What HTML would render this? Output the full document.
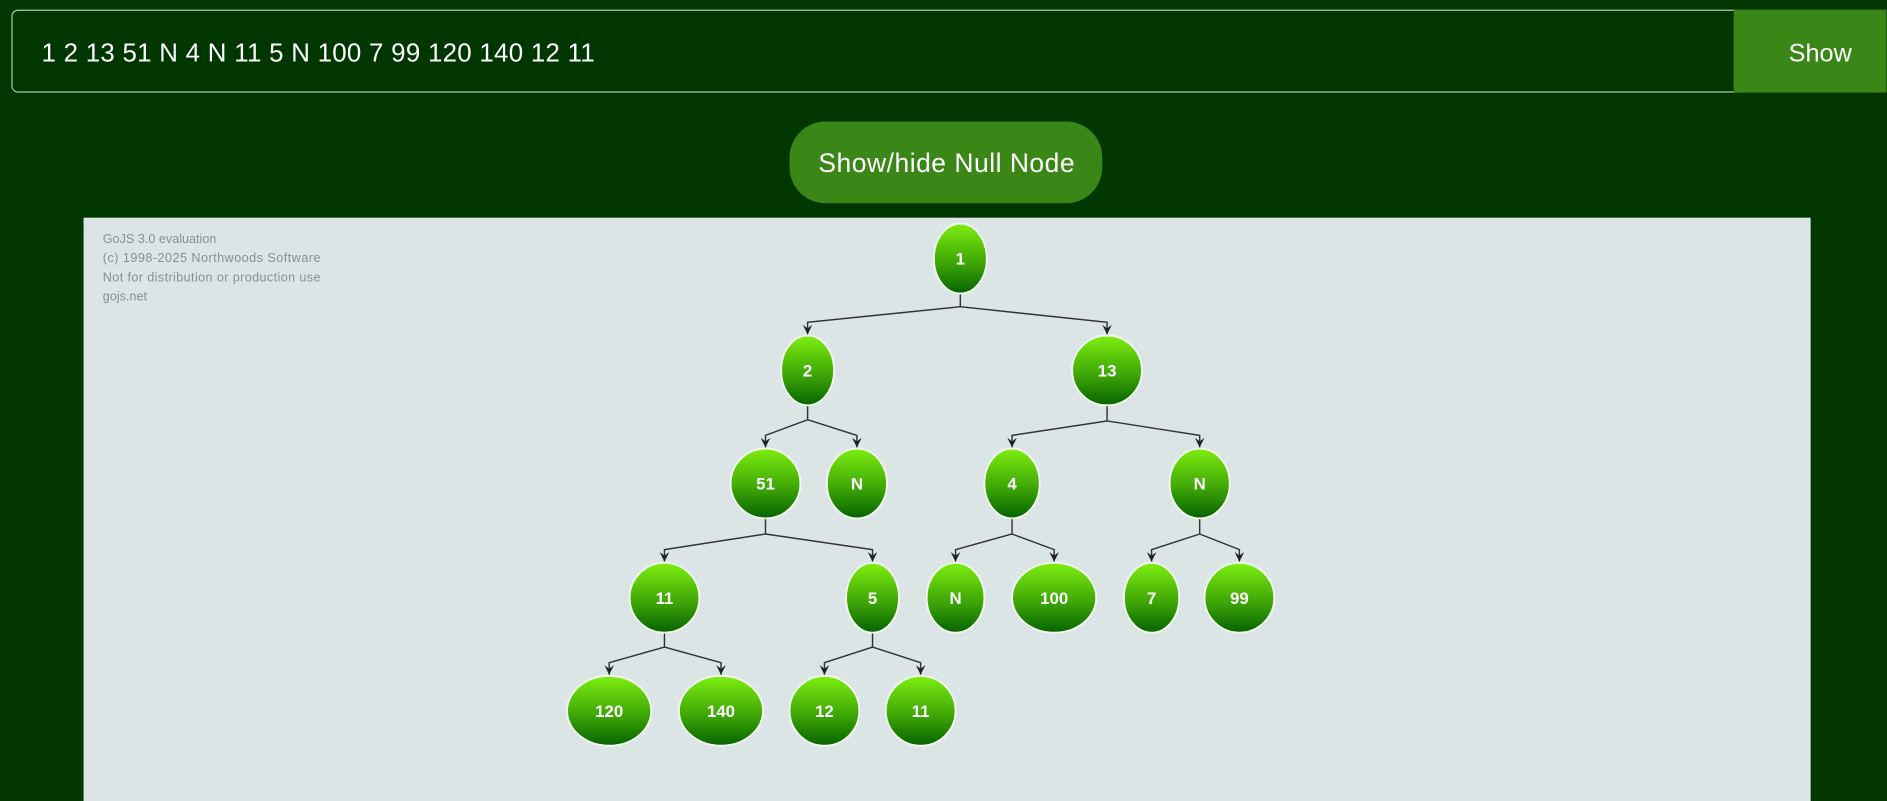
<!DOCTYPE html>
<html><head><meta charset="utf-8"><style>
html,body{margin:0;padding:0;background:#003700;overflow:hidden}
svg{display:block}
</style></head><body>
<svg width="1887" height="801" viewBox="0 0 1568 666" xmlns="http://www.w3.org/2000/svg">
<defs>
<linearGradient id="g" x1="0" y1="0" x2="0" y2="1">
<stop offset="0" stop-color="#7eee10"/><stop offset="0.55" stop-color="#3fa806"/><stop offset="1" stop-color="#066300"/>
</linearGradient>
<marker id="a" markerWidth="8" markerHeight="8" refX="4" refY="8" orient="0" markerUnits="userSpaceOnUse">
<path d="M0,0 L4,8 L8,0 L4,3 Z" fill="#222"/>
</marker>
</defs>
<rect width="1568" height="666" fill="#003700"/>
<rect x="9.5" y="8.5" width="1440" height="68" rx="5" fill="#003700" stroke="#a9c9a9" stroke-width="1"/>
<rect x="1441" y="8" width="127" height="69" fill="#3a8616"/>
<text x="34" y="51" font-family="Liberation Sans, sans-serif" font-size="21.5" fill="#fff" textLength="460">1 2 13 51 N 4 N 11 5 N 100 7 99 120 140 12 11</text>
<text x="1513" y="51" text-anchor="middle" font-family="Liberation Sans, sans-serif" font-size="21" fill="#fff">Show</text>
<rect x="656" y="101" width="260" height="68" rx="30" fill="#3a8616"/>
<text x="680" y="143" font-family="Liberation Sans, sans-serif" font-size="22" fill="#fff" textLength="213">Show/hide Null Node</text>
<rect x="69" y="181" width="1436" height="485" fill="#dbe5e5"/>
<g font-family="Liberation Sans, sans-serif" font-size="10.5" fill="#8a8f8f">
<text x="85" y="202">GoJS 3.0 evaluation</text>
<text x="85" y="218" textLength="181">(c) 1998-2025 Northwoods Software</text>
<text x="85" y="234" textLength="181">Not for distribution or production use</text>
<text x="85" y="250">gojs.net</text>
</g>
<g fill="none" stroke="#333" stroke-width="1.2">
<path d="M798,244 V255 L671,268 V278" marker-end="url(#a)"/>
<path d="M798,255 L920,268 V278" marker-end="url(#a)"/>
<path d="M671,337 V349 L636,362 V372" marker-end="url(#a)"/>
<path d="M671,349 L712,362 V372" marker-end="url(#a)"/>
<path d="M920,337 V350 L841,362 V372" marker-end="url(#a)"/>
<path d="M920,350 L997,362 V372" marker-end="url(#a)"/>
<path d="M636,431 V444 L552,457 V467" marker-end="url(#a)"/>
<path d="M636,444 L725,457 V467" marker-end="url(#a)"/>
<path d="M841,431 V444 L794,457 V467" marker-end="url(#a)"/>
<path d="M841,444 L876,457 V467" marker-end="url(#a)"/>
<path d="M997,431 V444 L957,457 V467" marker-end="url(#a)"/>
<path d="M997,444 L1030,457 V467" marker-end="url(#a)"/>
<path d="M552,526 V538 L506,551 V561" marker-end="url(#a)"/>
<path d="M552,538 L599,551 V561" marker-end="url(#a)"/>
<path d="M725,526 V538 L685,551 V561" marker-end="url(#a)"/>
<path d="M725,538 L765,551 V561" marker-end="url(#a)"/>
</g>
<g fill="url(#g)" stroke="#f4fff0" stroke-width="1.5">
<ellipse cx="798" cy="215" rx="22" ry="29"/>
<ellipse cx="671" cy="308" rx="22" ry="29"/>
<ellipse cx="920" cy="308" rx="29" ry="29"/>
<ellipse cx="636" cy="402" rx="29" ry="29"/>
<ellipse cx="712" cy="402" rx="25" ry="29"/>
<ellipse cx="841" cy="402" rx="23" ry="29"/>
<ellipse cx="997" cy="402" rx="25" ry="29"/>
<ellipse cx="552" cy="497" rx="29" ry="29"/>
<ellipse cx="725" cy="497" rx="22" ry="29"/>
<ellipse cx="794" cy="497" rx="24" ry="29"/>
<ellipse cx="876" cy="497" rx="35" ry="29"/>
<ellipse cx="957" cy="497" rx="23" ry="29"/>
<ellipse cx="1030" cy="497" rx="29" ry="29"/>
<ellipse cx="506" cy="591" rx="35" ry="29"/>
<ellipse cx="599" cy="591" rx="35" ry="29"/>
<ellipse cx="685" cy="591" rx="29" ry="29"/>
<ellipse cx="765" cy="591" rx="29" ry="29"/>
</g>
<g font-family="Liberation Sans, sans-serif" font-size="14" font-weight="bold" fill="#fff" text-anchor="middle">
<text x="798" y="220">1</text>
<text x="671" y="313">2</text>
<text x="920" y="313">13</text>
<text x="636" y="407">51</text>
<text x="712" y="407">N</text>
<text x="841" y="407">4</text>
<text x="997" y="407">N</text>
<text x="552" y="502">11</text>
<text x="725" y="502">5</text>
<text x="794" y="502">N</text>
<text x="876" y="502">100</text>
<text x="957" y="502">7</text>
<text x="1030" y="502">99</text>
<text x="506" y="596">120</text>
<text x="599" y="596">140</text>
<text x="685" y="596">12</text>
<text x="765" y="596">11</text>
</g>
</svg>
</body></html>
